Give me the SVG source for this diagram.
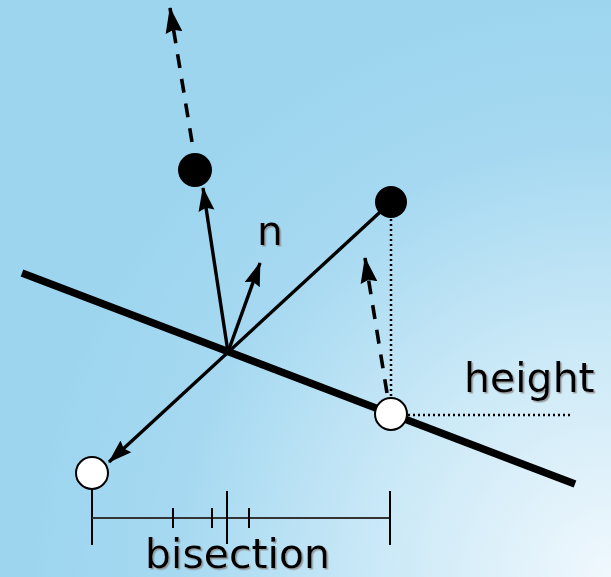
<svg xmlns="http://www.w3.org/2000/svg" width="611" height="577" viewBox="0 0 611 577">
  <defs>
    <radialGradient id="bg" cx="611" cy="577" r="580" gradientUnits="userSpaceOnUse">
      <stop offset="0" stop-color="#f0f8fd"/>
      <stop offset="0.4" stop-color="#cbe9f7"/>
      <stop offset="0.75" stop-color="#a6d9f1"/>
      <stop offset="1" stop-color="#9dd5ef"/>
    </radialGradient>
    <marker id="ah" viewBox="0 0 24 18" refX="23" refY="9" markerWidth="24" markerHeight="18" markerUnits="userSpaceOnUse" orient="auto">
      <path d="M0,1 L24,9 L0,17 L3,9 Z" fill="#000"/>
    </marker>
    <marker id="ahd" viewBox="0 0 26 19" refX="25" refY="9.5" markerWidth="26" markerHeight="19" markerUnits="userSpaceOnUse" orient="auto">
      <path d="M0,1 L26,9.5 L0,18 L3,9.5 Z" fill="#000"/>
    </marker>
    <filter id="sh" x="-10%" y="-10%" width="130%" height="140%">
      <feDropShadow dx="1.5" dy="1.5" stdDeviation="0.6" flood-color="#888" flood-opacity="0.8"/>
    </filter>
  </defs>
  <style>
    .lbl { font-family: "DejaVu Sans", Verdana, sans-serif; font-size: 41px; fill: #000; filter: url(#sh); }
    .arr { stroke: #000; stroke-width: 3.4; fill: none; }
    .dash { stroke: #000; stroke-width: 3.6; fill: none; stroke-dasharray: 14 11; }
    .dot { stroke: #000; stroke-width: 2.5; fill: none; stroke-dasharray: 2 3; }
    .rule { stroke: #333; stroke-width: 2; fill: none; }
    .tick { stroke: #000; stroke-width: 2; }
    .filled { fill: #000; }
    .open { fill: #fff; stroke: #000; stroke-width: 2; }
  </style>
  <rect width="611" height="577" fill="url(#bg)"/>

  <g id="connectors">
    <line id="surface" x1="22" y1="273" x2="575" y2="484" stroke="#000" stroke-width="7.5"/>
    <line class="arr" x1="391" y1="202" x2="109" y2="462" marker-end="url(#ah)" stroke-width="3"/>
    <line class="arr" x1="228" y1="352" x2="203" y2="188" marker-end="url(#ah)"/>
    <line class="arr" x1="228" y1="352" x2="260" y2="263" marker-end="url(#ah)"/>
    <line class="dash" x1="192" y1="142" x2="170" y2="8" marker-end="url(#ahd)"/>
    <line class="dash" x1="387" y1="393" x2="365" y2="258" marker-end="url(#ahd)"/>
    <line class="dot" x1="391" y1="219" x2="391" y2="398"/>
    <line class="dot" x1="408" y1="415" x2="570" y2="415"/>
  </g>

  <g id="ruler">
    <line class="tick" x1="92" y1="489" x2="92" y2="545"/>
    <line class="rule" x1="92" y1="518" x2="390" y2="518"/>
    <line class="tick" x1="390" y1="491" x2="390" y2="545" stroke-width="2.5"/>
    <line class="tick" x1="173" y1="508" x2="173" y2="528" stroke-width="1.5"/>
    <line class="tick" x1="212" y1="508" x2="212" y2="528" stroke-width="2.5"/>
    <line class="tick" x1="227" y1="491" x2="227" y2="544"/>
    <line class="tick" x1="249" y1="508" x2="249" y2="528"/>
  </g>

  <g id="node-reflected"><circle class="filled" cx="195" cy="170" r="17"/></g>
  <g id="node-point"><circle class="filled" cx="391" cy="202" r="16"/></g>
  <g id="node-foot"><circle class="open" cx="391" cy="414" r="16"/></g>
  <g id="node-mirror"><circle class="open" cx="92" cy="473" r="16"/></g>

  <text class="lbl" x="257" y="245">n</text>
  <text class="lbl" x="464" y="392">height</text>
  <text class="lbl" x="145" y="568">bisection</text>
</svg>
